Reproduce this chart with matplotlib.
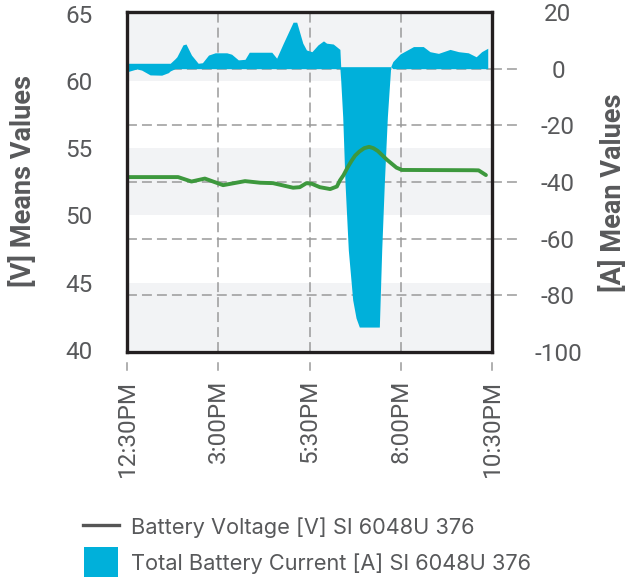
import matplotlib
matplotlib.use('Agg')
import matplotlib.pyplot as plt
import matplotlib.transforms as mtransforms
from matplotlib.lines import Line2D
from matplotlib.patches import Rectangle
import numpy as np

plt.rcParams['font.family'] = ['Roboto', 'DejaVu Sans']
plt.rcParams['axes.unicode_minus'] = False

# ---- data ----
tick_hours = [12.5, 15.0, 17.5, 20.0, 22.5]
tick_labels = ["12:30PM", "3:00PM", "5:30PM", "8:00PM", "10:30PM"]

# Total battery current (range band, minutes after 12:30PM)
cur_min = [0, 16, 24, 38, 57, 68, 71, 79, 82, 92, 97, 106, 117, 124, 134,
           145, 164, 172, 183, 194, 201, 238, 246, 257, 273, 279, 289, 295,
           304, 314, 323, 328, 339, 350, 351.3, 354.6, 358.4, 363.8, 371,
           376.5, 381.9, 414.8, 418.7, 423, 428, 433.5, 437, 449, 471, 487,
           498, 512, 531, 545, 561, 574, 583, 593]
cur_upper = [1.9, 1.9, 1.9, 1.9, 1.9, 1.9, 1.9, 3.5, 4.2, 8.4, 8.7, 4.8, 1.9,
             2.1, 4.8, 5.6, 5.6, 5.1, 3.1, 3.3, 5.8, 5.8, 3.7, 9.0, 16.4, 16.4,
             9.0, 6.6, 6.0, 8.4, 9.8, 9.0, 8.7, 6.8, 0.7, 0.7, 0.7, 0.7, 0.7,
             0.7, 0.7, 0.7, 0.7, 0.7, 0.7, 0.7, 2.5, 5.2, 7.8, 7.8, 6.0, 5.4,
             6.8, 6.0, 5.6, 4.2, 6.0, 7.2]
cur_lower = [-1.1, -0.1, -0.5, -2.2, -2.3, -1.4, -0.8, 0, 0, 0, 0, 0, 0, 0, 0,
             0, 0, 0, 0, 0, 0, 0, 0, 0, 0, 0, 0, 0, 0, 0, 0, 0, 0, 0,
             -4, -17, -40.4, -64, -81.6, -88, -91.2, -91.2, -64, -40.4, -17,
             0.7, 0, 0, 0, 0, 0, 0, 0, 0, 0, 0, 0, 0]

# Battery voltage
volt_min = [0, 84, 106, 128, 158, 194, 219, 240, 273, 284, 295, 304, 317, 334,
            345, 350, 356, 363, 369, 375, 382, 390, 398, 405, 412, 419, 427,
            435, 443, 452, 569, 578, 590]
volt_val = [52.85, 52.85, 52.52, 52.74, 52.25, 52.55, 52.43, 52.4, 52.06, 52.1,
            52.4, 52.35, 52.1, 51.96, 52.15, 52.6, 53.0, 53.6, 54.05, 54.45,
            54.75, 55.0, 55.1, 55.0, 54.8, 54.5, 54.15, 53.85, 53.55, 53.38,
            53.36, 53.35, 53.0]

v_ticks = [40, 45, 50, 55, 60, 65]
a_ticks = [-100, -80, -60, -40, -20, 0, 20]
a_grid = [-80, -60, -40, -20, 0]
bands = [(40, 45), (50, 55), (60, 65)]

series_labels = ["Battery Voltage [V] SI 6048U 376",
                 "Total Battery Current [A] SI 6048U 376"]

# ---- styling ----
BLUE = '#00b0da'
GREEN = '#3d983d'
TXT = '#58595b'
GRID = '#9a9a9a'
SPINE = '#231f20'
W, H = 628, 577

cur_t = 12.5 + np.array(cur_min) / 60.0
volt_t = 12.5 + np.array(volt_min) / 60.0

fig = plt.figure(figsize=(W / 100, H / 100), dpi=100)
ax = fig.add_axes([127/W, 1 - 352/H, 365/W, 340/H])
ax2 = ax.twinx()

ax.set_xlim(12.5, 22.5)
ax.set_ylim(39.85, 65.12)
ax2.set_ylim(-100, 20)

for lo, hi in bands:
    ax.axhspan(lo, hi, color='#f2f3f5', lw=0, zorder=0)

# grid on ax2 (under the fill)
dash = dict(color=GRID, lw=1.1, dashes=(6.5, 3.3))
for v in a_grid:
    ax2.axhline(v, zorder=0.5, **dash)
for t in tick_hours[1:-1]:
    ax2.axvline(t, zorder=0.5, **dash)

# dashed extensions outside the frame
tr_r = mtransforms.blended_transform_factory(ax2.transAxes, ax2.transData)
for v in a_grid:
    ax2.plot([1.0, 1.072], [v, v], transform=tr_r, clip_on=False, **dash)
tr_b = mtransforms.blended_transform_factory(ax2.transData, ax2.transAxes)
for t in tick_hours:
    ax2.plot([t, t], [-0.032, -0.053], transform=tr_b, clip_on=False,
             color=GRID, lw=1.1)

ax2.fill_between(cur_t, cur_lower, cur_upper, color=BLUE, lw=0, zorder=1)
ax2.plot(volt_t, volt_val, color=GREEN, lw=2.8, zorder=3,
         transform=ax.transData, solid_capstyle='round')

# ticks
ax.set_xticks(tick_hours)
ax.set_xticklabels(tick_labels, rotation=90)
ax.set_yticks(v_ticks)
ax2.set_yticks(a_ticks)
ax.tick_params(axis='x', length=0, pad=20, labelsize=17.5, labelcolor=TXT)
ax.tick_params(axis='y', length=0, pad=25, labelsize=17.5, labelcolor=TXT)
ax2.tick_params(axis='y', length=0, pad=47.5, labelsize=17.5, labelcolor=TXT)
for lab in ax2.get_yticklabels():
    lab.set_ha('center')

for s in ax.spines.values():
    s.set_visible(False)
for s in ax2.spines.values():
    s.set_color(SPINE)
    s.set_linewidth(2.4)
    s.set_zorder(5)

ax.set_ylabel("[V] Means Values", fontsize=19.5, fontweight='bold', color=TXT)
ax.yaxis.label.set_va('center')
ax.yaxis.set_label_coords(-0.285, 0.503)
ax2.set_ylabel("[A] Mean Values", fontsize=19.5, fontweight='bold', color=TXT)
ax2.yaxis.label.set_va('center')
ax2.yaxis.set_label_coords(1.332, 0.468)

# legend (drawn in figure pixel layout)
fig.add_artist(Line2D([83/W, 119/W], [1 - 525/H, 1 - 525/H],
                      transform=fig.transFigure, color='#555555', lw=2.4))
fig.add_artist(Rectangle((84/W, 1 - 577/H), 34/W, 30/H,
                         transform=fig.transFigure, facecolor=BLUE,
                         edgecolor='none'))
lfont = dict(fontsize=15.7, color=TXT, family=['Inter', 'Roboto', 'DejaVu Sans'],
             va='baseline', ha='left')
fig.text(131/W, 1 - 534/H, series_labels[0], **lfont)
fig.text(131/W, 1 - 570/H, series_labels[1], **lfont)

fig.savefig('out.png', dpi=100)
